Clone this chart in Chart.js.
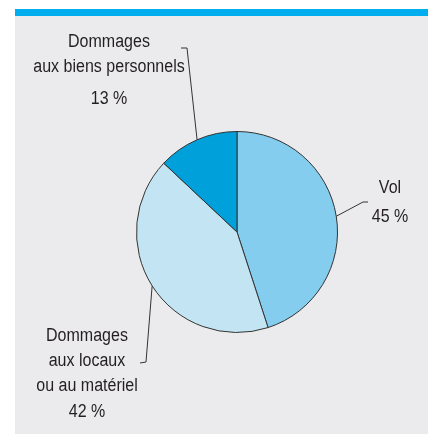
<!DOCTYPE html>
<html>
<head>
<meta charset="utf-8">
<script src="https://cdn.jsdelivr.net/npm/chart.js@4/dist/chart.umd.min.js"></script>
<style>
  html, body { margin: 0; padding: 0; background: #ffffff; }
  #wrap { position: relative; width: 428px; height: 434px; }
  #panel { position: absolute; left: 15px; top: 9px; right: 0; bottom: 0; background: #ebebed; }
  #bar { position: absolute; left: 15px; top: 9px; right: 0; height: 7px; background: #00aeef; }
  #myChart { position: absolute; left: 0; top: 0; }
</style>
</head>
<body>
<div id="wrap">
  <div id="panel"></div>
  <div id="bar"></div>
  <canvas id="myChart" width="428" height="434"></canvas>
</div>
<script>
const categories = [
  ['Vol'],
  ['Dommages', 'aux locaux', 'ou au matériel'],
  ['Dommages', 'aux biens personnels']
];
const values = [45, 42, 13];
const valueLabels = ['45 %', '42 %', '13 %'];
const colors = ['#84cdee', '#c3e4f3', '#00a1da'];

// leader line elbows and label anchors (canvas px)
const labelLayout = [
  { elbow: [363, 202], end: [368, 202], text: [390, 188], gap: 29 },
  { elbow: [146, 362], end: [140, 363], text: [87, 336], gap: 26 },
  { elbow: [187, 48], end: [181, 48], text: [109, 42], gap: 32 }
];

// condensed look: regular sans squeezed horizontally
function drawText(ctx, t, x, y) {
  ctx.save();
  ctx.translate(x, y);
  ctx.scale(0.89, 1);
  ctx.fillText(t, 0, 0);
  ctx.restore();
}

const labelPlugin = {
  id: 'pieLabels',
  afterDraw(chart) {
    const ctx = chart.ctx;
    const arcs = chart.getDatasetMeta(0).data;
    ctx.save();
    ctx.strokeStyle = '#333333';
    ctx.lineWidth = 1;
    ctx.fillStyle = '#231f20';
    ctx.font = '18px "Liberation Sans", Arial, sans-serif';
    ctx.textAlign = 'center';
    ctx.textBaseline = 'middle';
    arcs.forEach((arc, i) => {
      const p = arc.getProps(['x', 'y', 'startAngle', 'endAngle', 'outerRadius'], true);
      const mid = (p.startAngle + p.endAngle) / 2;
      const sx = p.x + Math.cos(mid) * p.outerRadius;
      const sy = p.y + Math.sin(mid) * p.outerRadius;
      const lay = labelLayout[i];
      ctx.beginPath();
      ctx.moveTo(sx, sy);
      ctx.lineTo(lay.elbow[0], lay.elbow[1]);
      ctx.lineTo(lay.end[0], lay.end[1]);
      ctx.stroke();
      const lines = categories[i];
      lines.forEach((t, j) => {
        drawText(ctx, t, lay.text[0], lay.text[1] + j * 25);
      });
      drawText(ctx, valueLabels[i], lay.text[0], lay.text[1] + (lines.length - 1) * 25 + lay.gap);
    });
    ctx.restore();
  }
};

const ctx = document.getElementById('myChart').getContext('2d');
const myChart = new Chart(ctx, {
  type: 'pie',
  data: {
    labels: categories.map(c => c.join(' ')),
    datasets: [{
      data: values,
      backgroundColor: colors,
      borderColor: '#333333',
      borderWidth: 1
    }]
  },
  options: {
    responsive: false,
    animation: false,
    layout: { padding: { left: 136, right: 90, top: 131, bottom: 101 } },
    plugins: {
      legend: { display: false },
      tooltip: { enabled: false }
    }
  },
  plugins: [labelPlugin]
});
</script>
</body>
</html>
